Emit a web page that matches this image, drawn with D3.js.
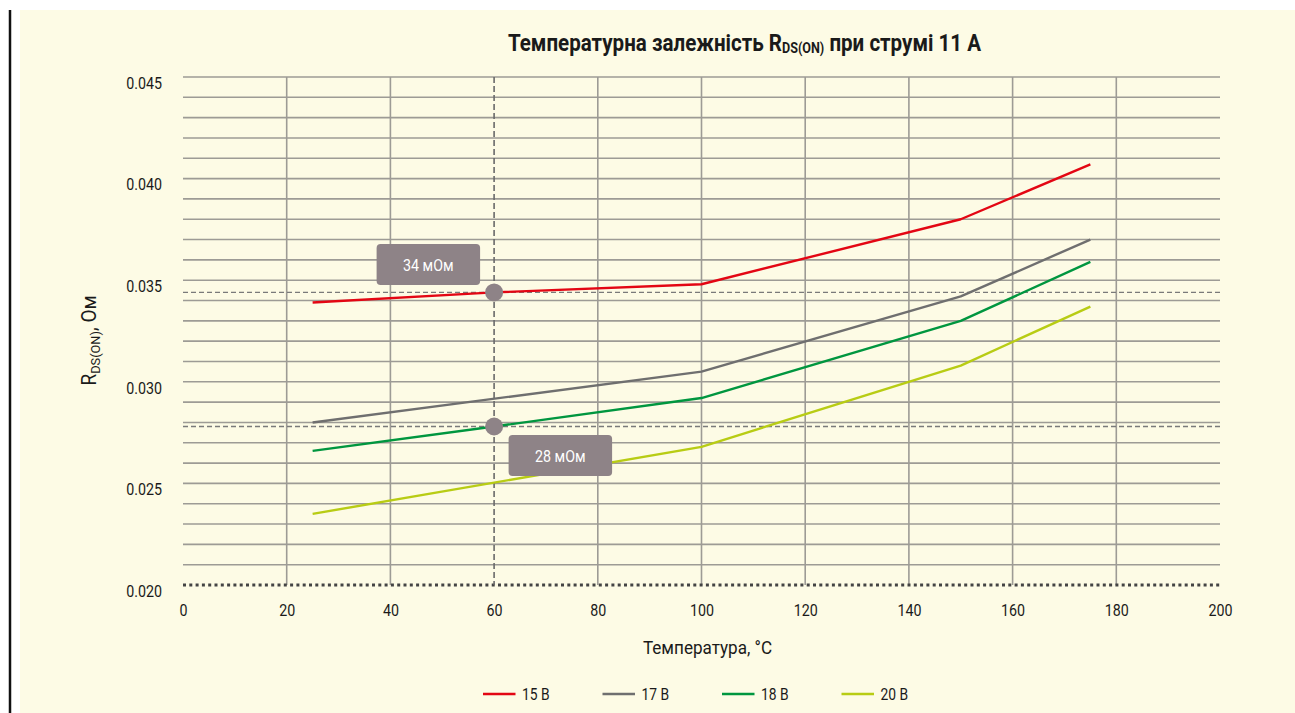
<!DOCTYPE html>
<html>
<head>
<meta charset="utf-8">
<script src="https://cdn.jsdelivr.net/npm/d3@7"></script>
<style>
  html, body { margin: 0; padding: 0; background: #ffffff; }
  svg { display: block; }
  text { font-family: Roboto, "Liberation Sans", sans-serif; fill: #1a1a1a; }
</style>
</head>
<body>
<svg id="chart" width="1295" height="713"></svg>
<script>
// Temperatures (°C) at which R_DS(on) was measured
const temps15 = [25, 60, 100, 150, 175];
const temps17 = [25, 100, 150, 175];
const temps18 = [25, 60, 100, 150, 175];
const temps20 = [25, 100, 150, 175];

// R_DS(on), Ohm, per gate voltage
const r15 = [0.0339, 0.0344, 0.0348, 0.0380, 0.0407];
const r17 = [0.0280, 0.0305, 0.0342, 0.0370];
const r18 = [0.0266, 0.0278, 0.0292, 0.0330, 0.0359];
const r20 = [0.0235, 0.0268, 0.0308, 0.0337];

const seriesNames = ["15 В", "17 В", "18 В", "20 В"];
const seriesColors = ["#e30613", "#6f6f6f", "#00963f", "#b8cc14"];

// Marked readings at 60 °C
const markTemp = 60;
const markValues = [0.0344, 0.0278];

const xTicks = [0, 20, 40, 60, 80, 100, 120, 140, 160, 180, 200];
const yTicks = [0.020, 0.025, 0.030, 0.035, 0.040, 0.045];

const series = [
  { name: seriesNames[0], color: seriesColors[0], t: temps15, v: r15 },
  { name: seriesNames[1], color: seriesColors[1], t: temps17, v: r17 },
  { name: seriesNames[2], color: seriesColors[2], t: temps18, v: r18 },
  { name: seriesNames[3], color: seriesColors[3], t: temps20, v: r20 }
];

const svg = d3.select("#chart");
const W = 1295, H = 713;

// narrow the typeface horizontally so it reads as a condensed grotesque
const NARROW = 0.84;
function narrowAt(sel, x, y, k) {
  sel.attr("x", 0).attr("y", 0)
     .attr("transform", `translate(${x},${y}) scale(${k || NARROW},1)`);
  return sel;
}

// cream panel and left rule
svg.append("rect").attr("x", 20).attr("y", 10).attr("width", W - 20).attr("height", H - 10).attr("fill", "#fdfbe5");
svg.append("line").attr("x1", 10).attr("x2", 10).attr("y1", 10).attr("y2", H).attr("stroke", "#111").attr("stroke-width", 2.5);

const x = d3.scaleLinear().domain([0, 200]).range([183, 1220]);
const y = d3.scaleLinear().domain([0.020, 0.045]).range([585, 77]);

const grid = svg.append("g");
const gridColor = "#9d9b95";

// horizontal grid every 1 mOhm
const minor = d3.range(21, 46).map(d => d / 1000);
grid.selectAll("line.h").data(minor).join("line")
  .attr("x1", x(0)).attr("x2", x(200))
  .attr("y1", d => y(d)).attr("y2", d => y(d))
  .attr("stroke", gridColor).attr("stroke-width", 1.6);

// vertical grid
grid.selectAll("line.v").data(xTicks.filter(d => d > 0 && d < 200 && d !== markTemp)).join("line")
  .attr("x1", d => x(d)).attr("x2", d => x(d))
  .attr("y1", y(0.045)).attr("y2", y(0.020))
  .attr("stroke", gridColor).attr("stroke-width", 1.6);

// dotted baseline at 0.020
svg.append("line")
  .attr("x1", x(0)).attr("x2", x(200))
  .attr("y1", y(0.020)).attr("y2", y(0.020))
  .attr("stroke", "#444").attr("stroke-width", 3).attr("stroke-dasharray", "3,3.3");

// dashed reference lines
svg.selectAll("line.ref").data(markValues).join("line")
  .attr("x1", x(0)).attr("x2", x(200))
  .attr("y1", d => y(d)).attr("y2", d => y(d))
  .attr("stroke", "#7a7a7a").attr("stroke-width", 1.4).attr("stroke-dasharray", "5,3");
svg.append("line")
  .attr("x1", x(markTemp)).attr("x2", x(markTemp))
  .attr("y1", y(0.045)).attr("y2", y(0.020))
  .attr("stroke", "#6a6a6a").attr("stroke-width", 1.6).attr("stroke-dasharray", "6,3");

// axes tick labels
const yAxis = d3.axisLeft(y).tickValues(yTicks).tickFormat(d3.format(".3f")).tickSize(0).tickPadding(0);
const ya = svg.append("g").attr("transform", "translate(162,0)").call(yAxis)
  .attr("font-family", null).attr("font-size", null);
ya.select(".domain").remove();
ya.selectAll("text").attr("font-size", 17).attr("fill", "#1a1a1a")
  .attr("x", 0).attr("dy", null).attr("y", 11.3)
  .attr("transform", `scale(${NARROW},1)`);

const xAxis = d3.axisBottom(x).tickValues(xTicks).tickFormat(d3.format("d")).tickSize(0).tickPadding(0);
const xa = svg.append("g").attr("transform", "translate(0,616)").call(xAxis)
  .attr("font-family", null).attr("font-size", null);
xa.select(".domain").remove();
xa.selectAll("text").attr("font-size", 17).attr("fill", "#1a1a1a")
  .attr("y", 0).attr("dy", null)
  .attr("transform", `scale(${NARROW},1)`);

// series lines
const line = d3.line().x(d => x(d[0])).y(d => y(d[1]));
svg.selectAll("path.series").data(series).join("path")
  .attr("d", s => line(s.t.map((t, i) => [t, s.v[i]])))
  .attr("fill", "none").attr("stroke", s => s.color).attr("stroke-width", 2.4)
  .attr("stroke-linejoin", "round");

// marker dots and callouts
const calloutFill = "#8e8387";
svg.selectAll("circle.mark").data(markValues).join("circle")
  .attr("cx", x(markTemp)).attr("cy", d => y(d)).attr("r", 9).attr("fill", calloutFill);

const callouts = [
  { v: markValues[0], dx: -117.5, dy: -48.5 },
  { v: markValues[1], dx: 14.5, dy: 8.5 }
];
callouts.forEach(c => {
  const bx = x(markTemp) + c.dx, by = y(c.v) + c.dy;
  svg.append("rect").attr("x", bx).attr("y", by).attr("width", 103.5).attr("height", 41)
    .attr("rx", 4).attr("fill", calloutFill);
  narrowAt(svg.append("text"), bx + 51.7, by + 27.2)
    .attr("text-anchor", "middle").attr("font-size", 17).style("fill", "#ffffff")
    .text(Math.round(c.v * 1000) + " мОм");
});

// title
const title = narrowAt(svg.append("text"), 744.5, 50.7)
  .attr("text-anchor", "middle").attr("font-size", 24.5).attr("font-weight", "bold");
title.append("tspan").text("Температурна залежність R");
title.append("tspan").attr("font-size", 15).attr("dy", 2.5).text("DS(ON)");
title.append("tspan").attr("dy", -2.5).text(" при струмі 11 А");

// axis titles
const yl = svg.append("text").attr("text-anchor", "middle").attr("font-size", 20)
  .attr("transform", "translate(96,340.5) rotate(-90) scale(0.95,1)");
yl.append("tspan").text("R");
yl.append("tspan").attr("font-size", 13.5).attr("dy", 3.5).text("DS(ON)");
yl.append("tspan").attr("dy", -3.5).text(", Ом");

narrowAt(svg.append("text"), 707.5, 654, 0.9)
  .attr("text-anchor", "middle").attr("font-size", 19).text("Температура, °C");

// legend
const legend = svg.append("g");
const lg = legend.selectAll("g").data(series).join("g")
  .attr("transform", (d, i) => `translate(${483 + i * 119.5},694)`);
lg.append("line").attr("x1", 0).attr("x2", 32.5).attr("y1", 0).attr("y2", 0)
  .attr("stroke", d => d.color).attr("stroke-width", 2.4);
lg.each(function () {
  narrowAt(d3.select(this).append("text"), 39, 6).attr("font-size", 16.5).text(d => d.name);
});
</script>
</body>
</html>
